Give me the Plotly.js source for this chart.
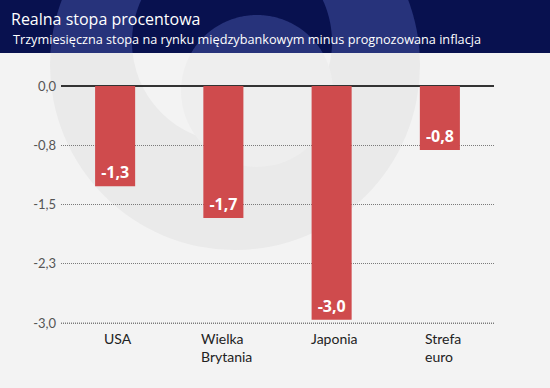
<!DOCTYPE html>
<html>
<head>
<meta charset="utf-8">
<script src="https://cdn.plot.ly/plotly-3.0.1.min.js"></script>
<style>
  html, body { margin: 0; padding: 0; background: #f3f3f3; }
  #chart { width: 550px; height: 388px; }
</style>
</head>
<body>
<div id="chart"></div>
<script>
// ---- data ----
const categories = ['USA', 'Wielka Brytania', 'Japonia', 'Strefa euro'];
const categoryLabels = ['USA', 'Wielka<br>Brytania', 'Japonia', 'Strefa<br>euro'];
const values = [-1.27, -1.67, -2.96, -0.81];
const tickVals = [0, -0.75, -1.5, -2.25, -3];
const tickText = ['0,0', '-0,8', '-1,5', '-2,3', '-3,0'];
const titleText = 'Realna stopa procentowa';
const subtitleText = 'Trzymiesięczna stopa na rynku międzybankowym minus prognozowana inflacja';

// ---- layout geometry (pixels) ----
const W = 550, H = 388;
const M = { l: 61, r: 56, t: 86, b: 63 };
const PW = W - M.l - M.r, PH = H - M.t - M.b;
const HEADER_H = 53;
const px = x => (x - M.l) / PW;
const py = y => (H - M.b - y) / PH;

const NAVY = '#08114f', NAVY_LIGHT = '#27337b';
const BG = '#f3f3f3', RING = '#eaeaea';
const GRID = '#7a7a7a';

// watermark circles (pixel centre, radius)
const wm = [
  { cx: 235, cy: 65, r: 185, body: RING, head: NAVY_LIGHT },
  { cx: 232, cy: 42, r: 100, body: BG, head: NAVY },
  { cx: 257, cy: 91, r: 76, body: '#eeeeee', head: NAVY_LIGHT }
];

function circleShape(c, fill) {
  return { type: 'circle', xref: 'paper', yref: 'paper', layer: 'below',
    x0: px(c.cx - c.r), x1: px(c.cx + c.r), y0: py(c.cy + c.r), y1: py(c.cy - c.r),
    fillcolor: fill, line: { width: 0 } };
}
function headerSegment(c, fill) {
  const s = (HEADER_H - c.cy) / c.r;
  if (s <= -1) return null;
  let a0, a1;
  if (s >= 1) { a0 = 0; a1 = 2 * Math.PI; }
  else { const t1 = Math.asin(s); a0 = Math.PI - t1; a1 = t1 + 2 * Math.PI; }
  const n = 160, pts = [];
  for (let i = 0; i <= n; i++) {
    const a = a0 + (a1 - a0) * i / n;
    const X = c.cx + c.r * Math.cos(a), Y = Math.min(c.cy + c.r * Math.sin(a), HEADER_H);
    pts.push(px(X).toFixed(5) + ',' + py(Y).toFixed(5));
  }
  return { type: 'path', xref: 'paper', yref: 'paper', layer: 'below',
    path: 'M' + pts.join('L') + 'Z', fillcolor: fill, line: { width: 0 } };
}

const shapes = [];
wm.forEach(c => shapes.push(circleShape(c, c.body)));
shapes.push({ type: 'rect', xref: 'paper', yref: 'paper', layer: 'below',
  x0: px(0), x1: px(W), y0: py(HEADER_H), y1: py(0), fillcolor: NAVY, line: { width: 0 } });
wm.forEach(c => { const s = headerSegment(c, c.head); if (s) shapes.push(s); });
// bottom gridline (Plotly omits the grid line at the lowest tick)
const lowest = tickVals[tickVals.length - 1];
shapes.push({ type: 'line', xref: 'paper', yref: 'y', layer: 'below',
  x0: 0, x1: 1, y0: lowest, y1: lowest, line: { color: GRID, width: 1, dash: '1px,1px' } });

const annotations = categories.map((c, i) => ({
  x: c, xref: 'x', y: py(328), yref: 'paper', xanchor: 'center', yanchor: 'top',
  text: categoryLabels[i], align: 'left', showarrow: false, xshift: 3,
  font: { family: 'Lato', size: 14, color: '#222222' }
}));
annotations.push({
  text: subtitleText, xref: 'paper', yref: 'paper', x: px(11), y: py(39),
  xanchor: 'left', yanchor: 'middle', showarrow: false,
  font: { family: 'Open Sans', size: 12.7, color: '#ffffff' }
});

const trace = {
  type: 'bar', x: categories, y: values,
  marker: { color: '#cf4b4d', line: { width: 0 } },
  text: values.map(v => v.toFixed(1).replace('.', ',')),
  textposition: 'inside', insidetextanchor: 'end', constraintext: 'none',
  textfont: { family: 'Open Sans', size: 16, color: '#ffffff', weight: 700 },
  hoverinfo: 'skip'
};

const layout = {
  width: W, height: H, margin: M,
  paper_bgcolor: BG, plot_bgcolor: 'rgba(0,0,0,0)',
  showlegend: false, bargap: 0.63,
  title: { text: titleText, xref: 'container', yref: 'container',
    x: 11 / W, xanchor: 'left', y: 1 - 19 / H, yanchor: 'middle',
    font: { family: 'Open Sans', size: 16, color: '#ffffff' } },
  xaxis: { range: [-0.5, 3.5], showticklabels: false, showgrid: false, zeroline: false,
    showline: false, ticks: '', fixedrange: true },
  yaxis: { range: [-3.025, 0], tickvals: tickVals, ticktext: tickText,
    showgrid: true, gridcolor: GRID, griddash: '1px,1px', gridwidth: 1,
    zeroline: true, zerolinecolor: '#333333', zerolinewidth: 1.5,
    showline: false, ticks: '', ticklabelstandoff: 4,
    tickfont: { family: 'Lato', size: 13, color: '#555555' }, fixedrange: true },
  shapes: shapes, annotations: annotations
};

Plotly.newPlot('chart', [trace], layout, { displayModeBar: false, staticPlot: true });
</script>
</body>
</html>
